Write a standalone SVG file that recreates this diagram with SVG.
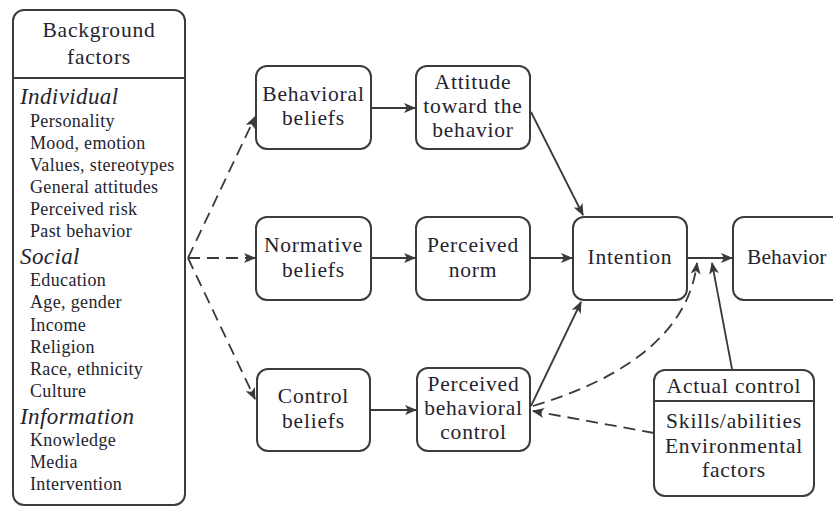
<svg xmlns="http://www.w3.org/2000/svg" width="833" height="508" viewBox="0 0 833 508">
<style>
.box{fill:#fff;stroke:#3c3c3c;stroke-width:2}
.t{font-family:"Liberation Serif","Times New Roman",serif;fill:#24242e}
.n{font-size:21.5px;text-anchor:middle;letter-spacing:0.8px}
.h{font-size:23px;font-style:italic;letter-spacing:0.4px}
.i{font-size:18px;letter-spacing:0.35px}
.ln{fill:none;stroke:#3a3a3a;stroke-width:1.8}
.d{stroke-dasharray:12 7}
</style>
<defs>
<marker id="ah" viewBox="0 0 12 10" refX="11" refY="5" markerWidth="12" markerHeight="10" markerUnits="userSpaceOnUse" orient="auto">
<path d="M0,0 L12,5 L0,10 L3,5 Z" fill="#3a3a3a"/>
</marker>
</defs>
<rect width="833" height="508" fill="#fff"/>
<g id="background">
<rect class="box" x="13" y="10" width="172" height="495" rx="11"/>
<line x1="13" y1="78" x2="185" y2="78" stroke="#3c3c3c" stroke-width="2"/>
<text class="t n" x="99" y="37" font-size="22">Background</text>
<text class="t n" x="99" y="64" font-size="22">factors</text>
<text class="t h" x="20" y="104">Individual</text>
<text class="t i" x="30" y="127">Personality</text>
<text class="t i" x="30" y="149">Mood, emotion</text>
<text class="t i" x="30" y="171">Values, stereotypes</text>
<text class="t i" x="30" y="193">General attitudes</text>
<text class="t i" x="30" y="215">Perceived risk</text>
<text class="t i" x="30" y="237">Past behavior</text>
<text class="t h" x="20" y="264">Social</text>
<text class="t i" x="30" y="286">Education</text>
<text class="t i" x="30" y="308">Age, gender</text>
<text class="t i" x="30" y="331">Income</text>
<text class="t i" x="30" y="353">Religion</text>
<text class="t i" x="30" y="375">Race, ethnicity</text>
<text class="t i" x="30" y="397">Culture</text>
<text class="t h" x="20" y="424">Information</text>
<text class="t i" x="30" y="446">Knowledge</text>
<text class="t i" x="30" y="468">Media</text>
<text class="t i" x="30" y="490">Intervention</text>
</g>
<g id="behavioral-beliefs">
<rect class="box" x="256" y="66" width="115" height="83" rx="11"/>
<text class="t n" x="313.5" y="101">Behavioral</text>
<text class="t n" x="313.5" y="125">beliefs</text>
</g>
<g id="attitude">
<rect class="box" x="416" y="66" width="114" height="83" rx="11"/>
<text class="t n" x="473" y="89">Attitude</text>
<text class="t n" x="473" y="113">toward the</text>
<text class="t n" x="473" y="137">behavior</text>
</g>
<g id="normative-beliefs">
<rect class="box" x="256" y="217" width="115" height="83" rx="11"/>
<text class="t n" x="313.5" y="252">Normative</text>
<text class="t n" x="313.5" y="277">beliefs</text>
</g>
<g id="perceived-norm">
<rect class="box" x="416" y="217" width="114" height="83" rx="11"/>
<text class="t n" x="473" y="252">Perceived</text>
<text class="t n" x="473" y="277">norm</text>
</g>
<g id="intention">
<rect class="box" x="573" y="217" width="114" height="83" rx="11"/>
<text class="t n" x="630" y="264">Intention</text>
</g>
<g id="behavior">
<rect class="box" x="733" y="217" width="115" height="83" rx="11"/>
<text class="t" x="747" y="264" font-size="21.5" letter-spacing="0.1">Behavior</text>
</g>
<g id="control-beliefs">
<rect class="box" x="257" y="369" width="113" height="82" rx="11"/>
<text class="t n" x="313.5" y="403">Control</text>
<text class="t n" x="313.5" y="428">beliefs</text>
</g>
<g id="perceived-behavioral-control">
<rect class="box" x="417" y="368" width="113" height="83" rx="11"/>
<text class="t n" x="473.5" y="391">Perceived</text>
<text class="t n" x="473.5" y="415">behavioral</text>
<text class="t n" x="473.5" y="439">control</text>
</g>
<g id="actual-control">
<rect class="box" x="654" y="370" width="160" height="126" rx="11"/>
<line x1="654" y1="401" x2="814" y2="401" stroke="#3c3c3c" stroke-width="2"/>
<text class="t n" x="734" y="393">Actual control</text>
<text class="t n" x="734" y="428">Skills/abilities</text>
<text class="t n" x="734" y="453">Environmental</text>
<text class="t n" x="734" y="477">factors</text>
</g>
<g id="connectors">
<path class="ln d" d="M188,258 L255,117" marker-end="url(#ah)"/>
<path class="ln d" d="M188,258 L255,258" marker-end="url(#ah)"/>
<path class="ln d" d="M188,258 L255,399" marker-end="url(#ah)"/>
<path class="ln" d="M371,108 L415,108" marker-end="url(#ah)"/>
<path class="ln" d="M371,258 L415,258" marker-end="url(#ah)"/>
<path class="ln" d="M370,410 L416,410" marker-end="url(#ah)"/>
<path class="ln" d="M530,258 L572,258" marker-end="url(#ah)"/>
<path class="ln" d="M531,112 L583,215" marker-end="url(#ah)"/>
<path class="ln" d="M531,406 L581,302" marker-end="url(#ah)"/>
<path class="ln" d="M687,258 L732,258" marker-end="url(#ah)"/>
<path class="ln d" d="M533,406 Q685,360 697,263" marker-end="url(#ah)"/>
<path class="ln" d="M732,369 L712,263" marker-end="url(#ah)"/>
<path class="ln d" d="M654,433 L533,411" marker-end="url(#ah)"/>
</g>
</svg>
